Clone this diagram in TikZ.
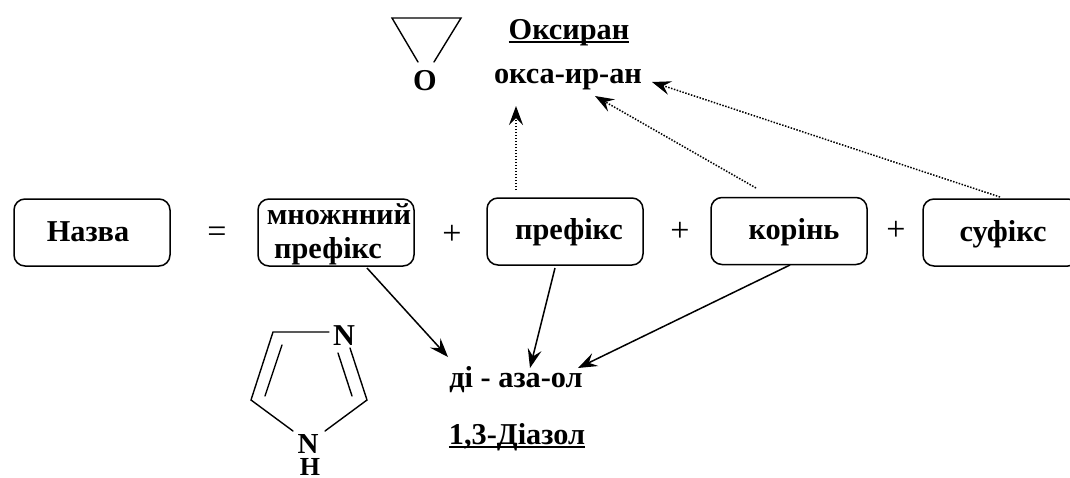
\documentclass[tikz,border=0pt]{standalone}
\usepackage{fontspec}
\setmainfont{Liberation Serif}
\usetikzlibrary{arrows.meta}
\newcommand\heavyul[1]{\setbox0\hbox{#1}\rlap{\rule[-3.6pt]{\wd0}{1.7pt}}\box0}
\tikzset{
  x=1pt,y=-1pt,
  lbl/.style={inner sep=0pt,font=\fontsize{30.3}{32}\selectfont\bfseries,anchor=base},
  sym/.style={inner sep=0pt,font=\fontsize{34}{36}\selectfont,anchor=base},
  box/.style={draw,line width=1.5pt,rounded corners=11pt,inner sep=0pt,minimum width=156pt,minimum height=67pt},
  arr/.style={line width=1.5pt,-{Stealth[length=19pt,width=14pt,inset=7pt]}},
  dotarr/.style={line width=1.5pt,dash pattern=on 1.5pt off 1.5pt,-{Stealth[length=19pt,width=14pt,inset=7pt]}},
  bond/.style={line width=1.4pt,line cap=round}
}
\begin{document}
\begin{tikzpicture}
\useasboundingbox[clip] (0,0) rectangle (1070,477);
\node[box] (nazva) at (92,232.5) {};
\node[lbl] (nazvat) at (88,241) {Назва};
\node[sym] (eq) at (217,242) {=};
\node[box] (mnozh) at (336,232.5) {};
\node[lbl] (m1) at (339,224) {множнний};
\node[lbl] (m2) at (328,258) {префікс};
\node[sym] (plus1) at (452,244) {+};
\node[box] (pref) at (565,231.5) {};
\node[lbl] (preft) at (569,239) {префікс};
\node[sym] (plus2) at (680,241) {+};
\node[box] (kor) at (789,231) {};
\node[lbl] (kort) at (794,239) {корінь};
\node[sym] (plus3) at (896,240) {+};
\node[box] (suf) at (1001,232.5) {};
\node[lbl] (suft) at (1003,241) {суфікс};
% top
\node[lbl] (oks) at (569,39) {\heavyul{Оксиран}};
\node[lbl] (oksa) at (568,83) {окса-ир-ан};
\node[lbl] (o) at (425,90) {O};
\coordinate (o1) at (392,18);
\coordinate (o2) at (461,18);
\coordinate (o3) at (418,62);
\coordinate (o4) at (434,62);
\draw[bond] (o3) -- (o1) -- (o2) -- (o4);
% bottom
\node[lbl] (di) at (516,387) {ді - аза-ол};
\node[lbl] (diaz) at (517,444) {\heavyul{1,3-Діазол}};
\node[lbl] (n1) at (344,345) {N};
\node[lbl,font=\fontsize{29}{30}\selectfont\bfseries] (n2) at (308,453) {N};
\node[lbl,font=\fontsize{26}{28}\selectfont\bfseries] (h) at (310,475.5) {H};
\coordinate (r1) at (329,332);
\coordinate (r2) at (273,332);
\coordinate (r3) at (251,400);
\coordinate (r4) at (293,431);
\coordinate (r5) at (325,431);
\coordinate (r6) at (367,400);
\coordinate (r7) at (350,348);
\draw[bond] (r1) -- (r2) -- (r3) -- (r4);
\draw[bond] (r5) -- (r6) -- (r7);
\coordinate (d1) at (282,345);
\coordinate (d2) at (265,396);
\coordinate (d3) at (338,353);
\coordinate (d4) at (352,396);
\draw[bond] (d1) -- (d2);
\draw[bond] (d3) -- (d4);
% arrows
\coordinate (a1s) at (516,190);
\coordinate (a1e) at (516,106);
\coordinate (a2s) at (756,188);
\coordinate (a2e) at (595,96);
\coordinate (a3s) at (1000,197);
\coordinate (a3e) at (652,82);
\draw[dotarr] (a1s) -- (a1e);
\draw[dotarr] (a2s) -- (a2e);
\draw[dotarr] (a3s) -- (a3e);
\coordinate (b1s) at (367,268);
\coordinate (b1e) at (448,357);
\coordinate (b2s) at (555,268);
\coordinate (b2e) at (530,368);
\coordinate (b3s) at (790,265);
\coordinate (b3e) at (578,368);
\draw[arr] (b1s) -- (b1e);
\draw[arr] (b2s) -- (b2e);
\draw[arr] (b3s) -- (b3e);
\end{tikzpicture}
\end{document}
